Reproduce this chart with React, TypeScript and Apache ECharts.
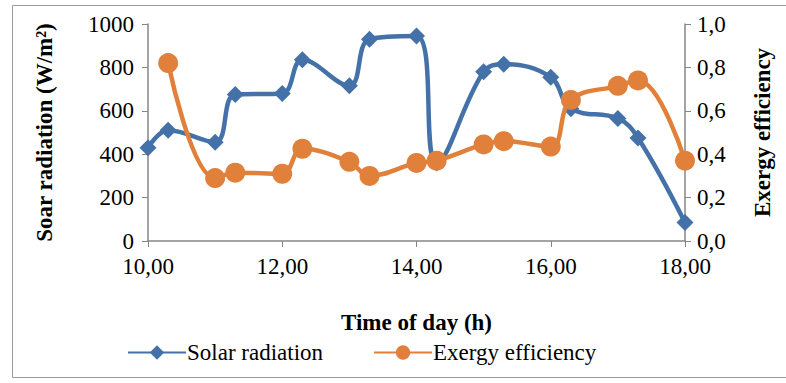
import React, { useEffect, useRef } from "react";
import * as echarts from "echarts";

const times = [10.0, 10.3, 11.0, 11.3, 12.0, 12.3, 13.0, 13.3, 14.0, 14.3, 15.0, 15.3, 16.0, 16.3, 17.0, 17.3, 18.0];
const solarRadiation = [430, 510, 455, 675, 680, 835, 715, 930, 945, 360, 780, 815, 755, 610, 565, 475, 85];
const exergyTimes = [10.3, 11.0, 11.3, 12.0, 12.3, 13.0, 13.3, 14.0, 14.3, 15.0, 15.3, 16.0, 16.3, 17.0, 17.3, 18.0];
const exergyEfficiency = [0.82, 0.29, 0.315, 0.31, 0.425, 0.365, 0.30, 0.36, 0.37, 0.445, 0.46, 0.435, 0.65, 0.715, 0.74, 0.37];

const FONT = "Liberation Serif";
const AXIS = "#868686";
const BLUE = "#4472A8";
const ORANGE = "#E0803A";

export default function App() {
  const ref = useRef<HTMLDivElement>(null);
  useEffect(() => {
    if (!ref.current) return;
    const chart = echarts.init(ref.current, null, { renderer: "svg" });
    const label = { fontFamily: FONT, fontSize: 23, color: "#000" };
    const title = { fontFamily: FONT, fontSize: 23, fontWeight: "bold", color: "#000" };
    chart.setOption({
      animation: false,
      backgroundColor: "#ffffff",
      textStyle: { fontFamily: FONT, color: "#000" },
      graphic: [
        {
          type: "rect",
          shape: { x: 12.5, y: 5.5, width: 790, height: 372 },
          style: { fill: "none", stroke: "#9a9a9a", lineWidth: 1 },
          silent: true,
        },
      ],
      grid: { left: 148, right: 101, top: 24, bottom: 142, containLabel: false },
      legend: {
        bottom: 14,
        left: 122,
        itemGap: 50,
        itemWidth: 58,
        itemHeight: 18,
        textStyle: { ...label, padding: [0, 0, 0, -4] },
        data: ["Solar radiation", "Exergy efficiency"],
      },
      xAxis: {
        type: "value",
        min: 10,
        max: 18,
        interval: 2,
        name: "Time of day (h)",
        nameLocation: "middle",
        nameGap: 70,
        nameTextStyle: title,
        axisLine: { show: true, lineStyle: { color: AXIS, width: 1.5 } },
        axisTick: { show: true, length: 6, lineStyle: { color: AXIS } },
        splitLine: { show: false },
        axisLabel: { ...label, margin: 14, formatter: (v: number) => v.toFixed(2).replace(".", ",") },
      },
      yAxis: [
        {
          type: "value",
          min: 0,
          max: 1000,
          interval: 200,
          name: "Soar radiation (W/m²)",
          nameLocation: "middle",
          nameGap: 92,
          nameRotate: 90,
          nameTextStyle: title,
          axisLine: { show: true, lineStyle: { color: AXIS, width: 1.5 } },
          axisTick: { show: true, length: 6, lineStyle: { color: AXIS } },
          splitLine: { show: false },
          axisLabel: { ...label, margin: 14, formatter: (v: number) => String(v) },
        },
        {
          type: "value",
          min: 0,
          max: 1,
          interval: 0.2,
          position: "right",
          name: "Exergy efficiency",
          nameLocation: "middle",
          nameGap: 66,
          nameRotate: 90,
          nameTextStyle: title,
          axisLine: { show: true, lineStyle: { color: AXIS, width: 1.5 } },
          axisTick: { show: true, length: 6, lineStyle: { color: AXIS } },
          splitLine: { show: false },
          axisLabel: { ...label, margin: 12, formatter: (v: number) => v.toFixed(1).replace(".", ",") },
        },
      ],
      series: [
        {
          name: "Solar radiation",
          type: "line",
          yAxisIndex: 0,
          smooth: 0.4,
          data: times.map((t, i) => [t, solarRadiation[i]]),
          symbol: "diamond",
          symbolSize: 17,
          lineStyle: { color: BLUE, width: 4.5 },
          itemStyle: { color: BLUE },
          z: 2,
        },
        {
          name: "Exergy efficiency",
          type: "line",
          yAxisIndex: 1,
          smooth: 0.4,
          data: exergyTimes.map((t, i) => [t, exergyEfficiency[i]]),
          symbol: "circle",
          symbolSize: 20,
          lineStyle: { color: ORANGE, width: 4.5 },
          itemStyle: { color: ORANGE },
          z: 3,
        },
      ],
    });
    return () => chart.dispose();
  }, []);
  return <div ref={ref} style={{ width: 786, height: 383, position: "absolute", left: 0, top: 0 }} />;
}
